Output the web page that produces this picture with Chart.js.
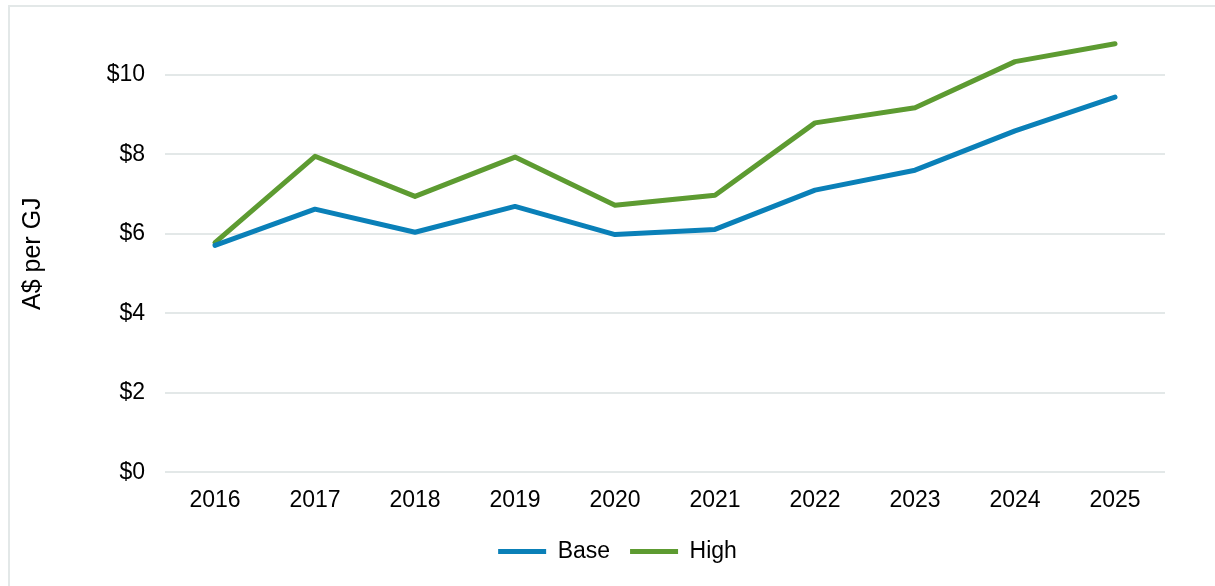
<!DOCTYPE html>
<html>
<head>
<meta charset="utf-8">
<script src="https://cdn.jsdelivr.net/npm/chart.js@4.4.0/dist/chart.umd.min.js"></script>
<style>
  body { margin: 0; background: #fff; }
  #frame { position: absolute; left: 8px; top: 5px; width: 1300px; height: 700px; border: 2px solid #e3e8e8; }
  #wrap { position: absolute; left: 0; top: 0; width: 1215px; height: 586px; }
</style>
</head>
<body>
<div id="frame"></div>
<div id="wrap"><canvas id="gasChart"></canvas></div>
<script>
// Datos del gráfico
const years = ["2016", "2017", "2018", "2019", "2020", "2021", "2022", "2023", "2024", "2025"];
const baseValues = [5.71, 6.62, 6.04, 6.69, 5.98, 6.11, 7.10, 7.60, 8.59, 9.44];
const highValues = [5.78, 7.95, 6.94, 7.93, 6.72, 6.97, 8.79, 9.17, 10.33, 10.78];
const yTickValues = [0, 2, 4, 6, 8, 10];

const font = { family: "'Liberation Sans', Arial, sans-serif", size: 23 };
Chart.defaults.font.family = font.family;
Chart.defaults.color = "#000";

const chartElement = document.querySelector("#gasChart");

let chart = new Chart(chartElement, {
  type: "line",
  data: {
    labels: years,
    datasets: [
      { label: "Base", data: baseValues, borderColor: "#0a80b8", backgroundColor: "#0a80b8",
        borderWidth: 5, pointRadius: 0, pointStyle: "line", borderCapStyle: "round", borderJoinStyle: "round" },
      { label: "High", data: highValues, borderColor: "#5d9b31", backgroundColor: "#5d9b31",
        borderWidth: 5, pointRadius: 0, pointStyle: "line", borderCapStyle: "round", borderJoinStyle: "round" },
    ],
  },
  options: {
    responsive: true,
    maintainAspectRatio: false,
    animation: false,
    layout: { padding: { left: 70, right: 50, top: 35, bottom: 13 } },
    plugins: {
      tooltip: { enabled: false },
      legend: {
        position: "bottom",
        labels: { font: font, usePointStyle: true, pointStyleWidth: 48, padding: 20 },
      },
    },
    scales: {
      x: {
        offset: true,
        grid: { display: false },
        border: { display: false },
        ticks: { font: font, padding: 6 },
      },
      y: {
        min: 0,
        max: 11,
        afterBuildTicks: (axis) => { axis.ticks = yTickValues.map((v) => ({ value: v })); },
        afterFit: (axis) => { axis.width = 95; },
        grid: { color: "#e3e8e8", lineWidth: 2, drawTicks: false },
        border: { display: false },
        ticks: { font: font, padding: 20, callback: (v) => "$" + v },
        title: { display: true, text: "A$ per GJ", font: { family: font.family, size: 25 }, padding: { top: -52, bottom: 0 } },
      },
    },
  },
});
</script>
</body>
</html>
